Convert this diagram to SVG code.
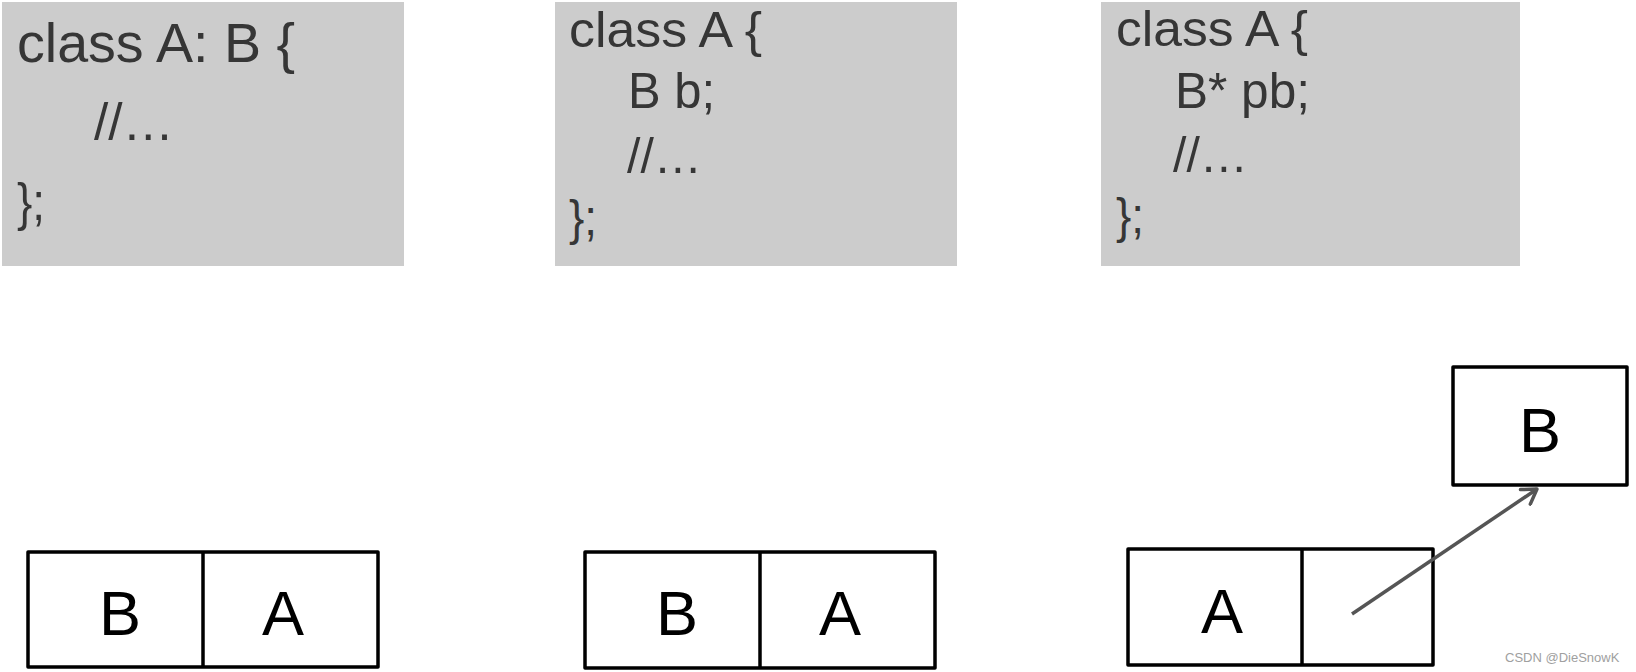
<svg xmlns="http://www.w3.org/2000/svg" width="1636" height="672" viewBox="0 0 1636 672">
  <style>
    .panel { fill: #cccccc; }
    .code { font-family: "Liberation Sans", Arial, sans-serif; fill: #363636; }
    .s55 { font-size: 55px; }
    .s51 { font-size: 51px; }
    .s50 { font-size: 50px; }
    .box { fill: #ffffff; stroke: #000000; stroke-width: 3.5; stroke-linejoin: round; }
    .div { stroke: #000000; stroke-width: 3.5; }
    .lbl { font-family: "Liberation Sans", Arial, sans-serif; font-size: 63px; fill: #000000; text-anchor: middle; }
    .conn { stroke: #555555; stroke-width: 3.5; fill: none; }
    .wm { font-family: "Liberation Sans", Arial, sans-serif; font-size: 13px; fill: #a0a0a0; }
  </style>
  <defs>
    <marker id="arrow" viewBox="0 0 12 12" refX="10" refY="6" markerWidth="6" markerHeight="6" orient="auto" markerUnits="strokeWidth">
      <path d="M2,1 L10,6 L2,11" fill="none" stroke="#555555" stroke-width="2" stroke-linecap="round" stroke-linejoin="round"/>
    </marker>
  </defs>
  <rect width="1636" height="672" fill="#ffffff"/>

  <g id="code1">
    <rect class="panel" x="2" y="2" width="402" height="264"/>
    <text class="code s55" x="17" y="62" textLength="278" lengthAdjust="spacingAndGlyphs">class A: B {</text>
    <text class="code s51" x="94" y="140" textLength="80" lengthAdjust="spacingAndGlyphs">//…</text>
    <text class="code s51" x="17" y="220" textLength="28" lengthAdjust="spacingAndGlyphs">};</text>
  </g>

  <g id="code2">
    <rect class="panel" x="555" y="2" width="402" height="264"/>
    <text class="code s50" x="569" y="47" textLength="193" lengthAdjust="spacingAndGlyphs">class A {</text>
    <text class="code s50" x="628" y="108" textLength="87" lengthAdjust="spacingAndGlyphs">B b;</text>
    <text class="code s50" x="627" y="173" textLength="75" lengthAdjust="spacingAndGlyphs">//…</text>
    <text class="code s50" x="569" y="235" textLength="28" lengthAdjust="spacingAndGlyphs">};</text>
  </g>

  <g id="code3">
    <rect class="panel" x="1101" y="2" width="419" height="264"/>
    <text class="code s50" x="1116" y="46" textLength="192" lengthAdjust="spacingAndGlyphs">class A {</text>
    <text class="code s50" x="1175" y="108" textLength="135" lengthAdjust="spacingAndGlyphs">B* pb;</text>
    <text class="code s50" x="1173" y="172" textLength="75" lengthAdjust="spacingAndGlyphs">//…</text>
    <text class="code s50" x="1116" y="233" textLength="28" lengthAdjust="spacingAndGlyphs">};</text>
  </g>

  <g id="layout1">
    <rect class="box" x="28" y="552" width="350" height="115"/>
    <line class="div" x1="203" y1="552" x2="203" y2="667"/>
    <text class="lbl" x="120" y="635">B</text>
    <text class="lbl" x="283" y="635">A</text>
  </g>

  <g id="layout2">
    <rect class="box" x="585" y="552" width="350" height="116"/>
    <line class="div" x1="760" y1="552" x2="760" y2="668"/>
    <text class="lbl" x="677" y="635">B</text>
    <text class="lbl" x="840" y="635">A</text>
  </g>

  <g id="layout3-a">
    <rect class="box" x="1128" y="549" width="305" height="116"/>
    <line class="div" x1="1302" y1="549" x2="1302" y2="665"/>
    <text class="lbl" x="1222" y="633">A</text>
  </g>

  <g id="layout3-b">
    <rect class="box" x="1453" y="367" width="174" height="118"/>
    <text class="lbl" x="1540" y="452">B</text>
  </g>

  <g id="connectors">
    <line class="conn" x1="1352" y1="614" x2="1537" y2="489" marker-end="url(#arrow)"/>
  </g>

  <text class="wm" x="1505" y="662">CSDN @DieSnowK</text>
</svg>
